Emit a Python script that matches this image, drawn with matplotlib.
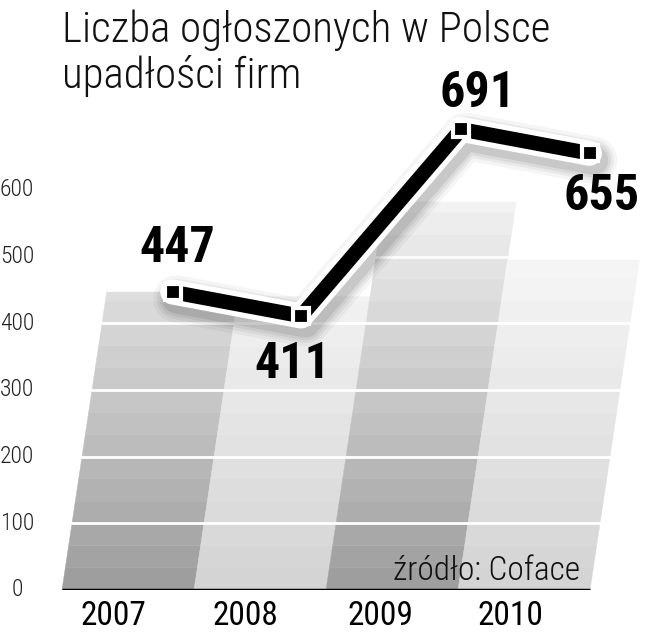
"""Liczba ogloszonych upadlosci firm w Polsce - skewed bar infographic."""

import numpy as np
import matplotlib
matplotlib.use("Agg")
import matplotlib.pyplot as plt
import matplotlib.patheffects as pe
from matplotlib.patches import Polygon
from matplotlib.transforms import Affine2D

years = ["2007", "2008", "2009", "2010"]
values = [447, 411, 691, 655]
# decorative background column heights
column_tops = [447, 440, 582, 495]
yticks = [0, 100, 200, 300, 400, 500, 600]
title_lines = ["Liczba ogłoszonych w Polsce", "upadłości firm"]
source = "źródło: Coface"

COND = ["Roboto Condensed", "DejaVu Sans"]

fig = plt.figure(figsize=(6.59, 6.40), dpi=100)
ax = fig.add_axes([0, 50 / 640, 1, 500 / 640])
ax.set_xlim(-128 / 132, (659 - 128) / 132)
ax.set_ylim(0, 750)
ax.set_axis_off()

# columns lean to the right: x' = x + s*y
s = 0.15 * (500 / 750) / 132
skew = Affine2D(np.array([[1, s, 0], [0, 1, 0], [0, 0, 1]])) + ax.transData

band = 100 / 3
for i, top in enumerate(column_tops):
    dark = i % 2 == 0
    y0 = 0.0
    while y0 < top - 0.5:
        y1 = min(y0 + band, top)
        if dark:
            g = 158 + (244 - 158) * y0 / 580
        else:
            g = 212 + (247 - 212) * y0 / 495
        c = (g / 255,) * 3
        ax.add_patch(Polygon([(i - 0.5, y0), (i + 0.5, y0), (i + 0.5, y1), (i - 0.5, y1)],
                             closed=True, facecolor=c, edgecolor=c, lw=0.3,
                             transform=skew, zorder=1))
        y0 = y1

for lvl in yticks[1:6]:
    ax.plot([-0.5, 3.5], [lvl, lvl], color="white", lw=2, transform=skew, zorder=2)

ax.plot([-0.5, 3.5], [0, 0], color="black", lw=2.5, zorder=3,
        solid_capstyle="butt")

# the line: white outline with soft shadow, black core, square markers
x = np.arange(len(values))
shadow = [pe.Stroke(linewidth=w, foreground="black", alpha=a, offset=(3, -5))
          for w, a in ((34, 0.04), (29, 0.05), (25, 0.06), (21, 0.08))]
ax.plot(x, values, color="white", lw=18, solid_capstyle="round",
        solid_joinstyle="round", transform=skew, zorder=5,
        path_effects=shadow + [pe.Normal()])
ax.plot(x, values, color="black", lw=10.5, solid_capstyle="butt",
        solid_joinstyle="miter", transform=skew, zorder=6)
ax.plot(x, values, ls="none", marker="s", ms=11, mfc="black", mec="white",
        mew=3, transform=skew, zorder=7)

offsets = [(3, 31), (-6, -35), (12, 26), (9, -31)]
for xi, v, off in zip(x, values, offsets):
    ax.annotate(str(v), xy=(xi, v), xycoords=skew, xytext=off,
                textcoords="offset points", ha="center", va="center",
                fontsize=36, fontweight=900, family=COND, zorder=8)

# tick labels and years
for t in yticks:
    ax.text(17 / 659, t, str(t), transform=ax.get_yaxis_transform(),
            ha="center", va="center", fontsize=17, fontweight="light",
            family=COND, color="#222222")

year_x = [113, 245, 380, 510]
for xp, yr in zip(year_x, years):
    fig.text(xp / 659, 1 - 616 / 640, yr, ha="center", va="center",
             fontsize=24, family=COND)

for yb, line in zip([42, 88], title_lines):
    fig.text(62 / 659, 1 - yb / 640, line, ha="left", va="baseline",
             fontsize=31, fontweight="light", family=COND, color="#111111")
fig.text(580 / 659, 1 - 580 / 640, source, ha="right", va="baseline",
         fontsize=24, fontweight="light", family=COND, color="#111111", zorder=9)

fig.savefig("out.png", dpi=100)
